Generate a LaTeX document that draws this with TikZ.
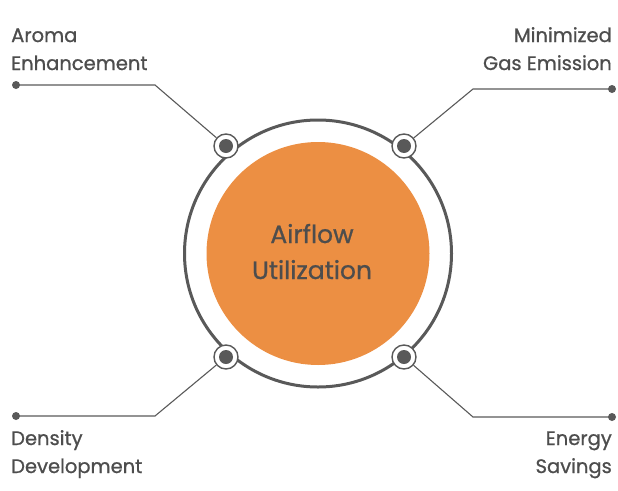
\documentclass[tikz,border=0pt]{standalone}
\usepackage{fontspec}
\setmainfont{Poppins}
\newfontfamily\lblfont{Poppins}[FakeBold=0.9]
\definecolor{txtgray}{HTML}{4D4D4D}
\definecolor{linegray}{HTML}{595959}
\definecolor{airorange}{HTML}{EC8F43}
\tikzset{
  marker/.style={circle,draw=linegray,line width=1.4pt,fill=white,minimum size=24pt,inner sep=0pt},
  hub/.style={circle,fill=linegray,minimum size=14pt,inner sep=0pt},
  enddot/.style={circle,fill=linegray,minimum size=8pt,inner sep=0pt},
  lead/.style={draw=linegray,line width=1.1pt},
  lbl/.style={font=\lblfont\fontsize{19.5}{28}\selectfont,text=txtgray,inner sep=0pt},
}
\begin{document}
\begin{tikzpicture}[x=1pt,y=-1pt]
\useasboundingbox (0,0) rectangle (618,490);

% centre
\fill[airorange] (318,253.5) circle (111.5);
\draw[linegray,line width=3pt] (318,253.5) circle (133.5);
\node[lbl,font=\lblfont\fontsize{25}{36}\selectfont,align=center,anchor=base] (hub) at (312,279) {Airflow\\Utilization};

% markers on the ring
\foreach \name/\x/\y in {tl/226/146, tr/404/146, bl/226/357, br/404/357} {
  \node[marker] (m\name) at (\x,\y) {};
  \node[hub] at (m\name) {};
}

% leader lines
\node[enddot] (dtl) at (16,85) {};
\node[enddot] (dtr) at (612,89) {};
\node[enddot] (dbl) at (16,416) {};
\node[enddot] (dbr) at (612,417) {};
\coordinate (ktl) at (155,85);
\coordinate (ktr) at (473,89);
\coordinate (kbl) at (155,416);
\coordinate (kbr) at (473,417);
\draw[lead] (dtl.center) -- (ktl) -- (mtl);
\draw[lead] (dtr.center) -- (ktr) -- (mtr);
\draw[lead] (dbl.center) -- (kbl) -- (mbl);
\draw[lead] (dbr.center) -- (kbr) -- (mbr);

% labels
\node[lbl,align=left,anchor=base west] (aroma) at (11,70) {Aroma\\Enhancement};
\node[lbl,align=right,anchor=base east] (gas) at (612,70) {Minimized\\Gas Emission};
\node[lbl,align=left,anchor=base west] (density) at (11,473) {Density\\Development};
\node[lbl,align=right,anchor=base east] (energy) at (612,473) {Energy\\Savings};
\end{tikzpicture}
\end{document}
